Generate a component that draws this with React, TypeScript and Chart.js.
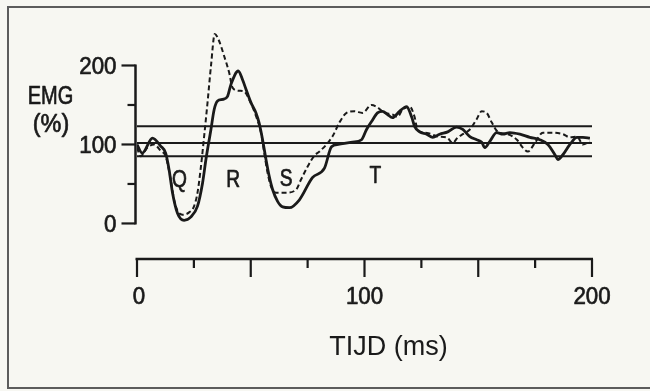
import React, { useEffect, useRef } from "react";
import { Chart, registerables } from "chart.js";

Chart.register(...registerables);

// ---- data ----
const solidTime = [0, 2.3, 6.8, 10.4, 12.6, 14.1, 15.6, 17.8, 20.7, 23.6, 26.6, 28.8, 30.3, 32.5, 33.9, 35.4, 37.6, 39.8, 41.3, 44.5, 46.4, 47.9, 50.1, 52.3, 53.7, 55.2, 56.7, 58.1, 59.6, 61.8, 64, 67, 71.4, 77.1, 82.4, 85.5, 88.5, 94.7, 98.7, 100.9, 103.1, 105.7, 107.9, 110.1, 112.3, 115.4, 117.6, 118.5, 120.7, 122, 124.2, 127.3, 130, 133, 136.6, 140.5, 143.2, 146.3, 149.3, 151.5, 152.9, 155.1, 158.1, 160.8, 163.9, 168.3, 172.7, 177.1, 180.6, 183.7, 185, 187.2, 190.3, 193.4, 196, 199.1];
const solidEmg = [100, 89, 108, 98, 89, 68, 39, 13, 4, 8, 22, 51, 81, 119, 144, 155, 157, 161, 176, 193, 182, 170, 153, 140, 127, 106, 81, 60, 43, 28, 21, 20, 30, 58, 70, 97, 100, 103, 106, 119, 129, 140, 142, 138, 134, 142, 147, 148, 135, 123, 116, 113, 109, 113, 116, 122, 119, 110, 106, 103, 96, 104, 115, 113, 115, 113, 109, 106, 100, 87, 81, 87, 100, 109, 109, 108];
const dashedTime = [0, 1.6, 4.5, 7.5, 10.4, 12.6, 14.8, 16.3, 17.8, 20, 22.9, 25.1, 26.6, 28.1, 29.5, 31, 32.5, 34.2, 36.1, 38.3, 40.5, 42, 44.9, 47.1, 49.3, 52.3, 54.5, 55.9, 57.4, 58.9, 61.1, 65.5, 70, 72, 75, 78, 80.2, 85.9, 89, 92.1, 95.6, 99.1, 103.1, 105.7, 108.8, 112.3, 114.5, 116.7, 119.8, 122, 123.3, 126.4, 129.5, 132.2, 136.1, 138.8, 141, 143.2, 146.3, 149.3, 151.5, 153.7, 155.9, 158.6, 163, 167, 169.6, 171.8, 174.9, 178.4, 182.8, 187.2, 190.3, 193.4, 196, 199.1];
const dashedEmg = [96, 85, 96, 100, 92, 85, 56, 30, 16, 11, 14, 22, 39, 72, 110, 153, 199, 240, 231, 212, 191, 172, 168, 167, 157, 136, 115, 90, 64, 47, 39, 39, 43, 55, 72, 86, 91, 110, 128, 140, 142, 140, 150, 147, 140, 138, 135, 144, 148, 135, 119, 115, 113, 110, 109, 102, 109, 113, 119, 132, 142, 140, 128, 116, 113, 106, 96, 91, 102, 115, 115, 113, 109, 110, 100, 104];
const bandLevels = [123, 102, 85];

const xTickValues = [0, 25, 50, 75, 100, 125, 150, 175, 200];
const xTickLabels = ["0", "", "", "", "100", "", "", "", "200"];
const xTickMajor = [true, false, true, false, true, false, true, false, true];
const yTickValues = [0, 50, 100, 150, 200];
const yTickLabels = ["0", "", "100", "", "200"];
const yTickMajor = [true, false, true, false, true];

const waveNames = ["Q", "R", "S", "T"];
const waveTimes = [18.7, 42.3, 65.6, 104.8];
const waveLevels = [54, 55, 56, 60];

const xTitle = "TIJD (ms)";
const yTitleLines = ["EMG", "(%)"];

const INK = "#1a1a1a";
const FONT = '"Liberation Sans", Arial, Helvetica, sans-serif';

function drawText(ctx: CanvasRenderingContext2D, text: string, x: number, y: number, size: number, sx: number, align: CanvasTextAlign, baseline: CanvasTextBaseline = "middle", heavy = 0) {
  ctx.save();
  ctx.translate(x, y);
  ctx.scale(sx, 1);
  ctx.font = `${size}px ${FONT}`;
  ctx.fillStyle = INK;
  ctx.textAlign = align;
  ctx.textBaseline = baseline;
  ctx.fillText(text, 0, 0);
  if (heavy > 0) {
    ctx.strokeStyle = INK;
    ctx.lineWidth = heavy;
    ctx.lineJoin = "round";
    ctx.strokeText(text, 0, 0);
  }
  ctx.restore();
}

const decorPlugin = {
  id: "decor",
  beforeDraw(chart: any) {
    const ctx = chart.ctx as CanvasRenderingContext2D;
    ctx.save();
    ctx.fillStyle = "#f7f7f2";
    ctx.fillRect(0, 0, chart.width, chart.height);
    ctx.strokeStyle = "#5c5c5c";
    ctx.lineWidth = 2;
    ctx.beginPath();
    ctx.moveTo(chart.width + 2, 7);
    ctx.lineTo(8, 7);
    ctx.lineTo(8, 388);
    ctx.lineTo(chart.width + 2, 388);
    ctx.stroke();
    ctx.restore();
  },
  afterDraw(chart: any) {
    const ctx = chart.ctx as CanvasRenderingContext2D;
    const xs = chart.scales.x;
    const ys = chart.scales.y;
    ctx.save();
    ctx.strokeStyle = INK;
    ctx.lineCap = "butt";

    // Y axis
    const ax = xs.getPixelForValue(0) - 1.5;
    ctx.lineWidth = 2.5;
    ctx.beginPath();
    ctx.moveTo(ax, ys.getPixelForValue(yTickValues[0]) + 1);
    ctx.lineTo(ax, ys.getPixelForValue(yTickValues[yTickValues.length - 1]) - 1);
    ctx.stroke();
    yTickValues.forEach((v, i) => {
      const py = ys.getPixelForValue(v);
      const len = yTickMajor[i] ? 14 : 8;
      ctx.strokeStyle = INK;
      ctx.lineWidth = 2.2;
      ctx.beginPath();
      ctx.moveTo(ax - len, py);
      ctx.lineTo(ax, py);
      ctx.stroke();
      if (yTickLabels[i]) drawText(ctx, yTickLabels[i], ax - 19, py + 2, 24, 0.93, "right", "middle", 0.7);
    });

    // X axis
    const ay = chart.chartArea.bottom;
    ctx.strokeStyle = INK;
    ctx.lineWidth = 2.5;
    ctx.beginPath();
    ctx.moveTo(xs.getPixelForValue(xTickValues[0]) - 1.5, ay);
    ctx.lineTo(xs.getPixelForValue(xTickValues[xTickValues.length - 1]) + 1, ay);
    ctx.stroke();
    xTickValues.forEach((v, i) => {
      const px = xs.getPixelForValue(v);
      const len = xTickMajor[i] ? 18 : 9;
      ctx.strokeStyle = INK;
      ctx.lineWidth = 2.2;
      ctx.beginPath();
      ctx.moveTo(px, ay);
      ctx.lineTo(px, ay + len);
      ctx.stroke();
      if (xTickLabels[i]) drawText(ctx, xTickLabels[i], px + (i === 0 ? 2 : 0), ay + 38, 24, 0.93, "center", "middle", 0.7);
    });

    // titles
    drawText(ctx, xTitle, 388.5, 355, 27, 1, "center", "alphabetic");
    drawText(ctx, yTitleLines[0], 50.5, 97, 26, 0.77, "center", "middle", 0.7);
    drawText(ctx, yTitleLines[1], 51, 125, 26, 0.9, "center", "middle", 0.7);

    // wave labels
    waveNames.forEach((n, i) => {
      drawText(ctx, n, xs.getPixelForValue(waveTimes[i]), ys.getPixelForValue(waveLevels[i]), 24, 0.8, "center", "middle", 0.7);
    });
    ctx.restore();
  },
};

export default function App() {
  const ref = useRef<HTMLCanvasElement | null>(null);
  useEffect(() => {
    if (!ref.current) return;
    const bandSets = bandLevels.map((lvl) => ({
      label: `band ${lvl}`,
      data: [
        { x: xTickValues[0], y: lvl },
        { x: xTickValues[xTickValues.length - 1], y: lvl },
      ],
      borderColor: INK,
      borderWidth: 2,
      pointRadius: 0,
      tension: 0,
    }));
    const chart = new Chart(ref.current, {
      type: "line",
      data: {
        datasets: [
          ...bandSets,
          {
            label: "dashed",
            data: dashedTime.map((t, i) => ({ x: t, y: dashedEmg[i] })),
            borderColor: INK,
            borderWidth: 2,
            borderDash: [5, 3],
            pointRadius: 0,
            cubicInterpolationMode: "monotone",
          },
          {
            label: "solid",
            data: solidTime.map((t, i) => ({ x: t, y: solidEmg[i] })),
            borderColor: INK,
            borderWidth: 2.8,
            pointRadius: 0,
            cubicInterpolationMode: "monotone",
          },
        ] as any,
      },
      options: {
        animation: false,
        responsive: false,
        devicePixelRatio: 1,
        layout: { padding: { left: 137, right: 58, top: 26, bottom: 132 } },
        plugins: { legend: { display: false }, tooltip: { enabled: false } },
        scales: {
          x: { type: "linear", min: 0, max: 200, display: false },
          y: { type: "linear", min: -45, max: 250, display: false },
        },
      },
      plugins: [decorPlugin],
    });
    return () => chart.destroy();
  }, []);
  return (
    <div style={{ position: "absolute", left: 0, top: 0, width: 650, height: 391 }}>
      <canvas ref={ref} width={650} height={391} />
    </div>
  );
}
